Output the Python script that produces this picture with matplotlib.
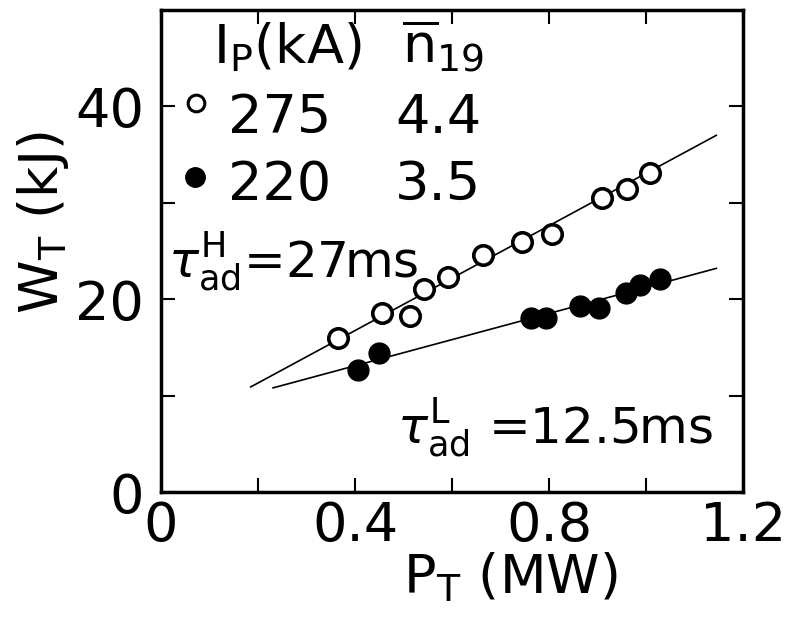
import numpy as np
import matplotlib
matplotlib.use('Agg')
import matplotlib.pyplot as plt

plt.rcParams.update({
    'font.family': 'DejaVu Sans',
    'font.size': 39,
    'mathtext.fontset': 'dejavusans',
    'axes.linewidth': 2.5,
})

# Ip = 275 kA, n19 = 4.4 (open circles)
p_open = [0.365, 0.456, 0.513, 0.542, 0.592, 0.664, 0.744, 0.806, 0.909, 0.961, 1.008]
w_open = [16.0, 18.6, 18.3, 21.1, 22.3, 24.6, 25.9, 26.8, 30.5, 31.4, 33.1]

# Ip = 220 kA, n19 = 3.5 (filled circles)
p_fill = [0.406, 0.449, 0.763, 0.794, 0.864, 0.903, 0.959, 0.988, 1.029]
w_fill = [12.7, 14.4, 18.0, 18.0, 19.3, 19.1, 20.6, 21.5, 22.1]

# fitted lines (end points)
fit_h_p = [0.185, 1.145]
fit_h_w = [10.9, 37.0]
fit_l_p = [0.231, 1.145]
fit_l_w = [10.8, 23.2]

xticks = [0.0, 0.2, 0.4, 0.6, 0.8, 1.0, 1.2]
xticklabels = ['0', '', '0.4', '', '0.8', '', '1.2']
yticks = [0, 10, 20, 30, 40]
yticklabels = ['0', '', '20', '', '40']

fig = plt.figure(figsize=(7.89, 6.28), dpi=100)
ax = fig.add_axes([161 / 789, 136 / 628, 582 / 789, 482 / 628])

ax.plot(fit_h_p, fit_h_w, color='black', lw=1.2, zorder=2)
ax.plot(fit_l_p, fit_l_w, color='black', lw=1.2, zorder=2)
ax.plot(p_open, w_open, 'o', ms=14, mfc='white', mec='black', mew=2.6, zorder=3)
ax.plot(p_fill, w_fill, 'o', ms=15, mfc='black', mec='black', mew=1, zorder=3)

ax.set_xlim(0, 1.2)
ax.set_ylim(0, 50)
ax.set_xticks(xticks)
ax.set_xticklabels(xticklabels)
ax.set_yticks(yticks)
ax.set_yticklabels(yticklabels)
ax.tick_params(direction='in', length=10, width=1.5, top=True, right=True, labelsize=39)
ax.tick_params(axis='x', pad=6)
ax.tick_params(axis='y', pad=12)

ax.set_xlabel(r'$\mathrm{P_T}$ (MW)', fontsize=39)
ax.xaxis.set_label_coords(0.601, -0.122)
ax.set_ylabel(r'$\mathrm{W_T}$ (kJ)', fontsize=39)
ax.yaxis.set_label_coords(-0.155, 0.558)

# key in the upper left corner
ax.text(0.089, 0.890, r'$\mathrm{I_P}$(kA)', transform=ax.transAxes, va='baseline', ha='left')
ax.text(0.414, 0.890, r'$\mathrm{\overline{n}_{19}}$', transform=ax.transAxes, va='baseline', ha='left')
ax.plot([0.060], [0.807], 'o', ms=12, mfc='white', mec='black', mew=2.2, transform=ax.transAxes, clip_on=False)
ax.plot([0.058], [0.653], 'o', ms=14, mfc='black', mec='black', transform=ax.transAxes, clip_on=False)
ax.text(0.115, 0.745, '275', transform=ax.transAxes, va='baseline', ha='left')
ax.text(0.402, 0.745, '4.4', transform=ax.transAxes, va='baseline', ha='left')
ax.text(0.115, 0.606, '220', transform=ax.transAxes, va='baseline', ha='left')
ax.text(0.402, 0.606, '3.5', transform=ax.transAxes, va='baseline', ha='left')

# confinement times from the two fits
ax.text(0.012, 0.446, r'$\tau^{\mathrm{H}}_{\mathrm{ad}}$=27ms', transform=ax.transAxes,
        va='baseline', ha='left', fontsize=36)
ax.text(0.405, 0.102, r'$\tau^{\mathrm{L}}_{\mathrm{ad}}$ =12.5ms', transform=ax.transAxes,
        va='baseline', ha='left', fontsize=36)

fig.savefig('out.png', dpi=100)
